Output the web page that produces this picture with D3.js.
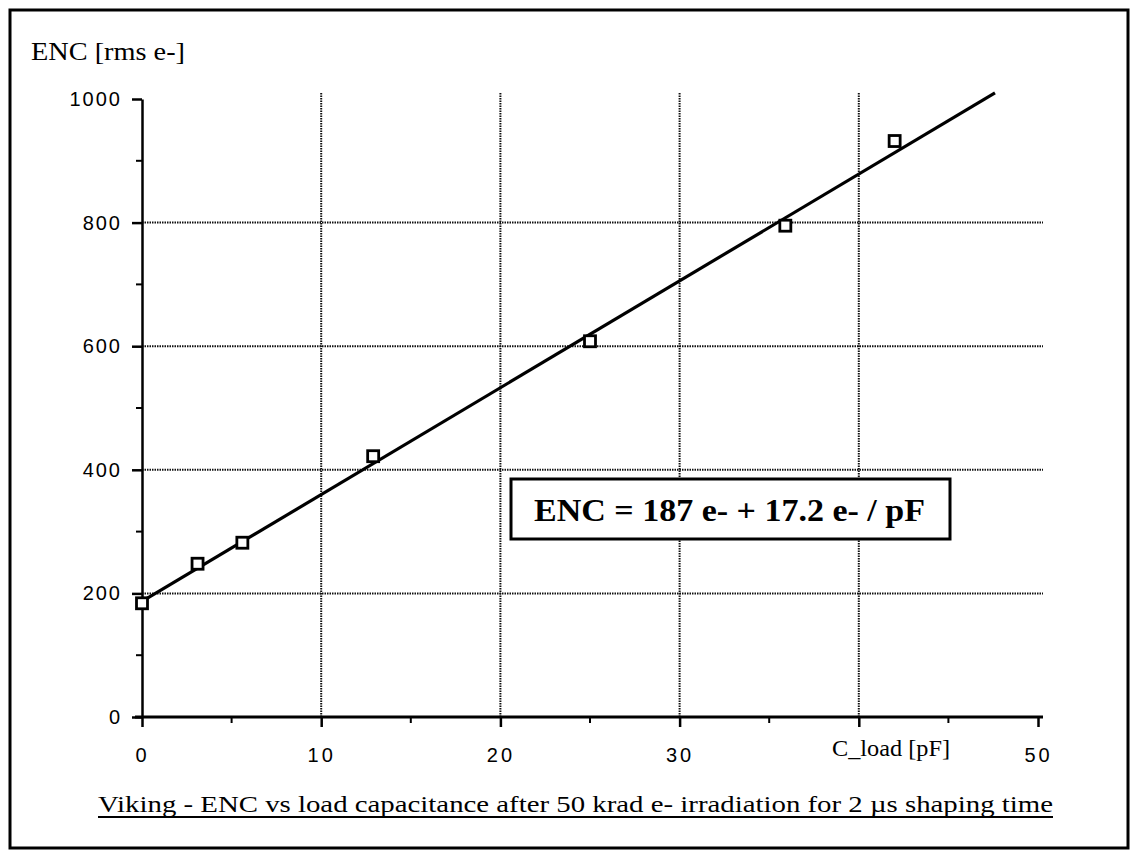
<!DOCTYPE html>
<html>
<head>
<meta charset="utf-8">
<script src="https://cdn.jsdelivr.net/npm/d3@7"></script>
<style>
  html, body { margin: 0; padding: 0; background: #fff; }
  svg { display: block; }
</style>
</head>
<body>
<script>
// ---- data ----
const capacitance = [0, 3.1, 5.6, 12.9, 25.0, 35.9, 42.0];        // C_load [pF]
const encValues   = [184, 248, 282, 422, 608, 795, 932];           // ENC [rms e-]
const fitLine     = [[0, 187], [47.6, 1010]];                      // ENC = 187 + 17.2*C
const xTicks      = [0, 10, 20, 30, 40, 50];
const xTickLabels = ["0", "10", "20", "30", "", "50"];
const xMinorTicks = [5, 15, 25, 35, 45];
const yTicks      = [0, 200, 400, 600, 800, 1000];
const yMinorTicks = [100, 300, 500, 700, 900];
const xGrid       = [10, 20, 30, 40];
const yGrid       = [200, 400, 600, 800];
const yTitle      = "ENC [rms e-]";
const xTitle      = "C_load [pF]";
const formulaText = "ENC = 187 e- + 17.2 e- / pF";
const caption     = "Viking - ENC vs load capacitance after 50 krad e- irradiation for 2 \u00B5s shaping time";

const W = 1133, H = 853;
const svg = d3.select("body").append("svg").attr("width", W).attr("height", H);

const x = d3.scaleLinear().domain([0, 50]).range([142, 1038]);
const y = d3.scaleLinear().domain([0, 1000]).range([717, 99]);

// outer frame
svg.append("rect").attr("x", 10).attr("y", 10).attr("width", 1118).attr("height", 838)
  .attr("fill", "none").attr("stroke", "#000").attr("stroke-width", 3);

// grid
const grid = svg.append("g").attr("stroke", "#111").attr("stroke-width", 2)
  .attr("stroke-dasharray", "1.5,1");
grid.selectAll("line.v").data(xGrid).join("line").attr("class", "v")
  .attr("x1", d => x(d)).attr("x2", d => x(d)).attr("y1", 93).attr("y2", y(0));
grid.selectAll("line.h").data(yGrid).join("line").attr("class", "h")
  .attr("x1", x(0)).attr("x2", 1043).attr("y1", d => y(d)).attr("y2", d => y(d));

// y axis
const yAxis = svg.append("g").attr("transform", `translate(${x(0)},0)`)
  .call(d3.axisLeft(y).tickValues(yTicks).tickSize(10).tickSizeOuter(0).tickFormat(d3.format("d")).tickPadding(10));
yAxis.select(".domain").attr("stroke-width", 2.5);
yAxis.selectAll(".tick line").attr("stroke-width", 2.5);
yAxis.selectAll(".tick text").attr("font-family", "Liberation Sans, Arial, sans-serif")
  .attr("font-size", 20).attr("letter-spacing", 2).attr("fill", "#000");
svg.append("g").selectAll("line").data(yMinorTicks).join("line")
  .attr("x1", x(0) - 6).attr("x2", x(0)).attr("y1", d => y(d)).attr("y2", d => y(d))
  .attr("stroke", "#000").attr("stroke-width", 2);

// x axis
const xAxis = svg.append("g").attr("transform", `translate(0,${y(0)})`)
  .call(d3.axisBottom(x).tickValues(xTicks).tickSize(10).tickSizeOuter(0)
    .tickFormat((d, i) => xTickLabels[i]).tickPadding(21));
xAxis.select(".domain").attr("d", `M${x(0) - 7},0H1043`).attr("stroke-width", 3);
xAxis.selectAll(".tick line").attr("stroke-width", 2.5);
xAxis.selectAll(".tick text").attr("font-family", "Liberation Sans, Arial, sans-serif")
  .attr("font-size", 20).attr("letter-spacing", 3).attr("fill", "#000");
svg.append("g").selectAll("line").data(xMinorTicks).join("line")
  .attr("x1", d => x(d)).attr("x2", d => x(d)).attr("y1", y(0)).attr("y2", y(0) + 6)
  .attr("stroke", "#000").attr("stroke-width", 2);

// fit line
svg.append("path").datum(fitLine)
  .attr("d", d3.line().x(d => x(d[0])).y(d => y(d[1])))
  .attr("fill", "none").attr("stroke", "#000").attr("stroke-width", 3.2);

// data markers
const pts = capacitance.map((c, i) => [c, encValues[i]]);
svg.append("g").selectAll("rect").data(pts).join("rect")
  .attr("x", d => x(d[0]) - 5.5).attr("y", d => y(d[1]) - 5.5)
  .attr("width", 11).attr("height", 11)
  .attr("fill", "#fff").attr("stroke", "#000").attr("stroke-width", 2.8);

// titles
svg.append("text").attr("x", 31).attr("y", 60).text(yTitle)
  .attr("font-family", "Liberation Serif, Times New Roman, serif").attr("font-size", 25)
  .attr("textLength", 154).attr("lengthAdjust", "spacingAndGlyphs");
svg.append("text").attr("x", 832).attr("y", 756).text(xTitle)
  .attr("font-family", "Liberation Serif, Times New Roman, serif").attr("font-size", 24)
  .attr("textLength", 118).attr("lengthAdjust", "spacingAndGlyphs");

// formula box
svg.append("rect").attr("x", 511).attr("y", 479).attr("width", 439).attr("height", 60)
  .attr("fill", "#fff").attr("stroke", "#000").attr("stroke-width", 3);
svg.append("text").attr("x", 534).attr("y", 521).text(formulaText)
  .attr("font-family", "Liberation Serif, Times New Roman, serif").attr("font-weight", "bold")
  .attr("font-size", 31).attr("textLength", 391).attr("lengthAdjust", "spacingAndGlyphs");

// caption
svg.append("text").attr("x", 98).attr("y", 812).text(caption)
  .attr("font-family", "Liberation Serif, Times New Roman, serif").attr("font-size", 24)
  .attr("textLength", 955).attr("lengthAdjust", "spacingAndGlyphs");
svg.append("line").attr("x1", 98).attr("x2", 1053).attr("y1", 817).attr("y2", 817)
  .attr("stroke", "#000").attr("stroke-width", 1.8);
</script>
</body>
</html>
